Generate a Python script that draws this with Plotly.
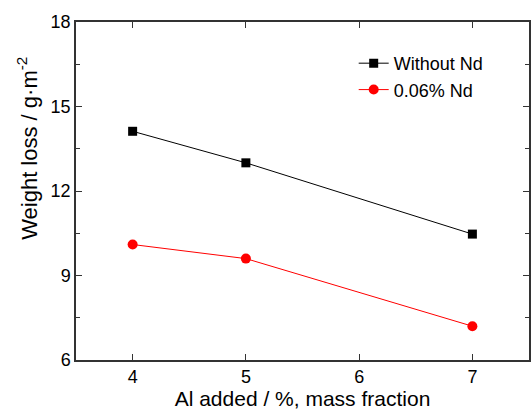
import plotly.graph_objects as go

al_added = [4, 5, 7]
without_nd = [14.12, 13.0, 10.47]
nd_006 = [10.1, 9.6, 7.2]
x_ticks = [4, 5, 6, 7]
y_ticks = [6, 9, 12, 15, 18]

fig = go.Figure()
fig.add_trace(go.Scatter(x=al_added, y=without_nd, mode="lines+markers", name="Without Nd",
                         line=dict(color="black", width=1),
                         marker=dict(symbol="square", size=9, color="black")))
fig.add_trace(go.Scatter(x=al_added, y=nd_006, mode="lines+markers", name="0.06% Nd",
                         line=dict(color="red", width=1),
                         marker=dict(symbol="circle", size=10, color="red")))

axis_common = dict(showline=True, linecolor="#333333", linewidth=1.5, mirror="ticks",
                   ticks="inside", tickcolor="#333333", ticklen=6, showgrid=False, zeroline=False,
                   tickfont=dict(family="Liberation Sans, Arial", size=18, color="black"))

fig.update_layout(
    width=532, height=411,
    margin=dict(l=76, r=1, t=22, b=51),
    paper_bgcolor="white", plot_bgcolor="white",
    font=dict(family="Liberation Sans, Arial", color="black"),
    xaxis=dict(range=[3.5, 7.5], tickvals=x_ticks,
               title=dict(text="Al added / %, mass fraction", font=dict(size=21), standoff=2),
               **axis_common),
    yaxis=dict(range=[6, 18], tickvals=y_ticks, minor=dict(dtick=1.5, ticks="inside", ticklen=4, tickcolor="#333333"),
               **axis_common),
    legend=dict(x=0.613, y=0.932, xanchor="left", yanchor="top", bgcolor="rgba(0,0,0,0)",
                font=dict(size=18), tracegroupgap=0, itemwidth=30),
    showlegend=True,
)
fig.add_annotation(text="Weight loss / g·m<sup>-2</sup>", xref="paper", yref="paper",
                   x=-0.108, y=0.625, xanchor="center", yanchor="middle", textangle=-90,
                   showarrow=False, font=dict(size=22, color="black"))
fig.write_html("out.html", config={"displayModeBar": False},
               post_script="document.body.style.margin='0';document.body.style.overflow='hidden';")
